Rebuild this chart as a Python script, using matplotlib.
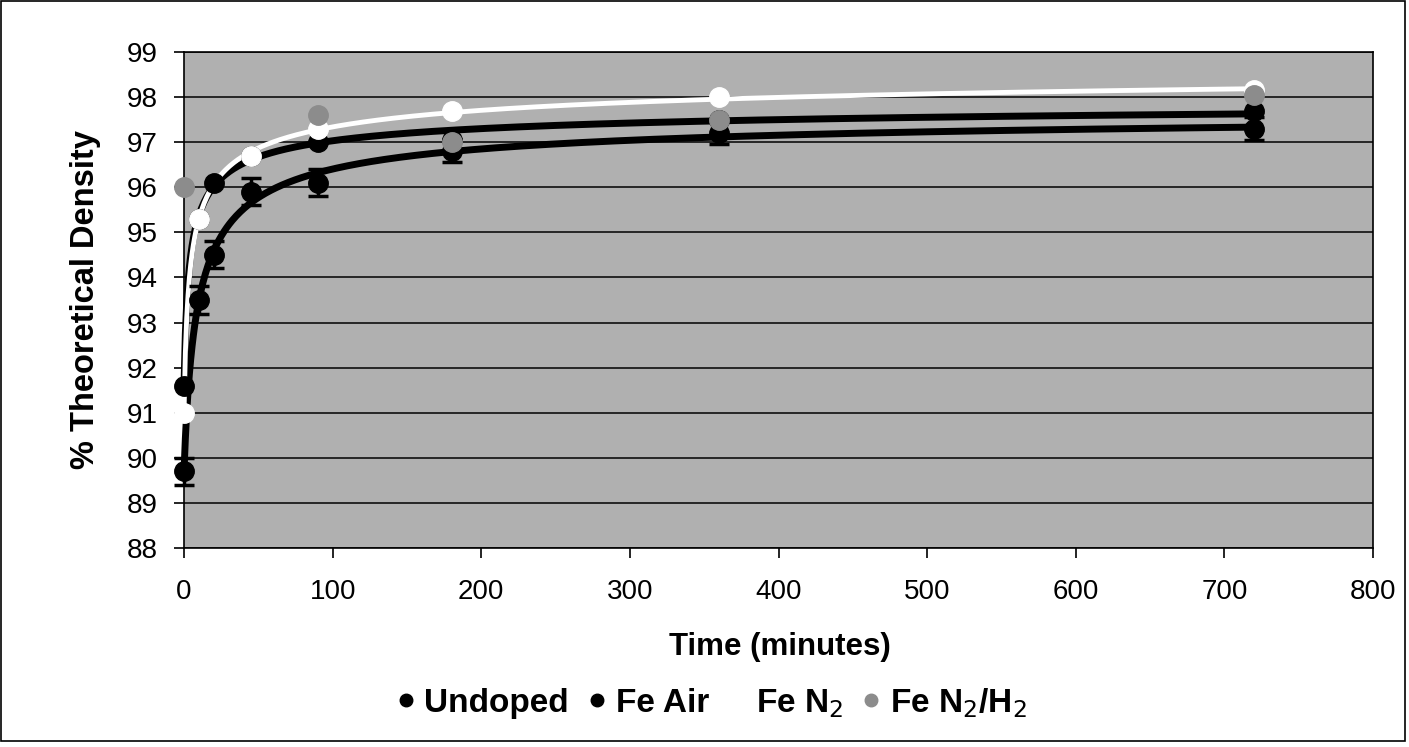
import numpy as np
import matplotlib
matplotlib.use("Agg")
import matplotlib.pyplot as plt
from matplotlib.lines import Line2D
from matplotlib.patches import Rectangle

plt.rcParams['font.family'] = ['Liberation Sans', 'DejaVu Sans']

# data (nan = point not visible in the original)
nan = np.nan
times = [0, 10, 20, 45, 90, 180, 360, 720]
undoped = [89.7, 93.5, 94.5, 95.9, 96.1, 96.8, 97.2, 97.3]
undoped_err = [0.3, 0.3, 0.3, 0.3, 0.3, 0.25, 0.25, 0.25]
fe_air = [91.6, 95.3, 96.1, 96.7, 97.0, 97.05, 97.5, 97.7]
fe_n2 = [91.0, 95.3, nan, 96.7, 97.3, 97.7, 98.0, 98.15]
fe_n2h2 = [96.0, nan, nan, nan, 97.6, 97.0, 97.5, 98.05]

labels = ['Undoped', 'Fe Air', 'Fe N$_2$', 'Fe N$_2$/H$_2$']
GREY = '#8c8c8c'


# saturating trendline y = a - b*(t + c)^-p, least squares over a grid of c, p
def trend(t, y):
    t = np.asarray(t, float)
    y = np.asarray(y, float)
    m = ~np.isnan(y)
    tm, ym = t[m], y[m]
    best = None
    for c in np.linspace(0.2, 30, 150):
        for p in np.linspace(0.05, 1.5, 60):
            X = np.column_stack([np.ones_like(tm), (tm + c) ** -p])
            coef, *_ = np.linalg.lstsq(X, ym, rcond=None)
            err = np.sum((X @ coef - ym) ** 2)
            if best is None or err < best[0]:
                best = (err, c, p, coef)
    _, c, p, coef = best
    tt = np.linspace(0, max(t), 800)
    return tt, coef[0] + coef[1] * (tt + c) ** -p


fig = plt.figure(figsize=(14.09, 7.47), dpi=100)
ax = fig.add_axes([0.1306, 0.2664, 0.8439, 0.6640])
ax.set_facecolor('#b0b0b0')

ax.set_xlim(0, 800)
ax.set_ylim(88, 99)
ax.set_xticks(range(0, 801, 100))
ax.set_yticks(range(88, 100))
ax.grid(axis='y', color='black', linewidth=1.1)
ax.set_axisbelow(True)
ax.tick_params(axis='both', direction='out', length=7, width=1.2, labelsize=20, colors='black')
ax.tick_params(axis='x', pad=15)
ax.tick_params(axis='y', pad=12)
for sp in ax.spines.values():
    sp.set_color('black')
    sp.set_linewidth(1.2)

# trendlines
for ser, col, lw in [(undoped, 'black', 5), (fe_air, 'black', 5), (fe_n2, 'white', 3.5)]:
    tt, yy = trend(times, ser)
    ax.plot(tt, yy, color=col, linewidth=lw, zorder=3, clip_on=False)

# points (later series on top)
ax.errorbar(times, undoped, yerr=undoped_err, fmt='o', color='black', markersize=14,
            capsize=7, elinewidth=2.5, capthick=2.5, zorder=4, clip_on=False)
ax.plot(times, fe_air, 'o', color='black', markersize=14, zorder=5, clip_on=False)
ax.plot(times, fe_n2, 'o', color='white', markersize=14, zorder=6, clip_on=False)
ax.plot(times, fe_n2h2, 'o', color=GREY, markersize=14, zorder=7, clip_on=False)

ax.set_xlabel('Time (minutes)', fontsize=22.5, fontweight='bold')
ax.xaxis.label.set_va('center')
ax.xaxis.set_label_coords(0.501, -0.2)
ax.set_ylabel('% Theoretical Density', fontsize=23.5, fontweight='bold')
ax.yaxis.label.set_va('center')
ax.yaxis.set_label_coords(-0.083, 0.5)

handles = [
    Line2D([], [], marker='o', linestyle='none', color='black', markersize=9),
    Line2D([], [], marker='o', linestyle='none', color='black', markersize=9),
    Line2D([], [], marker='o', linestyle='none', color='white', markersize=9),
    Line2D([], [], marker='o', linestyle='none', color=GREY, markersize=9),
]
fig.legend(handles, labels, loc='center', bbox_to_anchor=(0.503, 0.059), ncol=4,
           frameon=False, handletextpad=0.1, columnspacing=0.4, handlelength=0.9,
           prop={'size': 24, 'weight': 'bold'})

# frame round the whole figure
fig.patches.append(Rectangle((0.0005, 0.008), 0.997, 0.991, transform=fig.transFigure,
                             fill=False, edgecolor='black', linewidth=1.2))

fig.savefig('out.png', dpi=100)
